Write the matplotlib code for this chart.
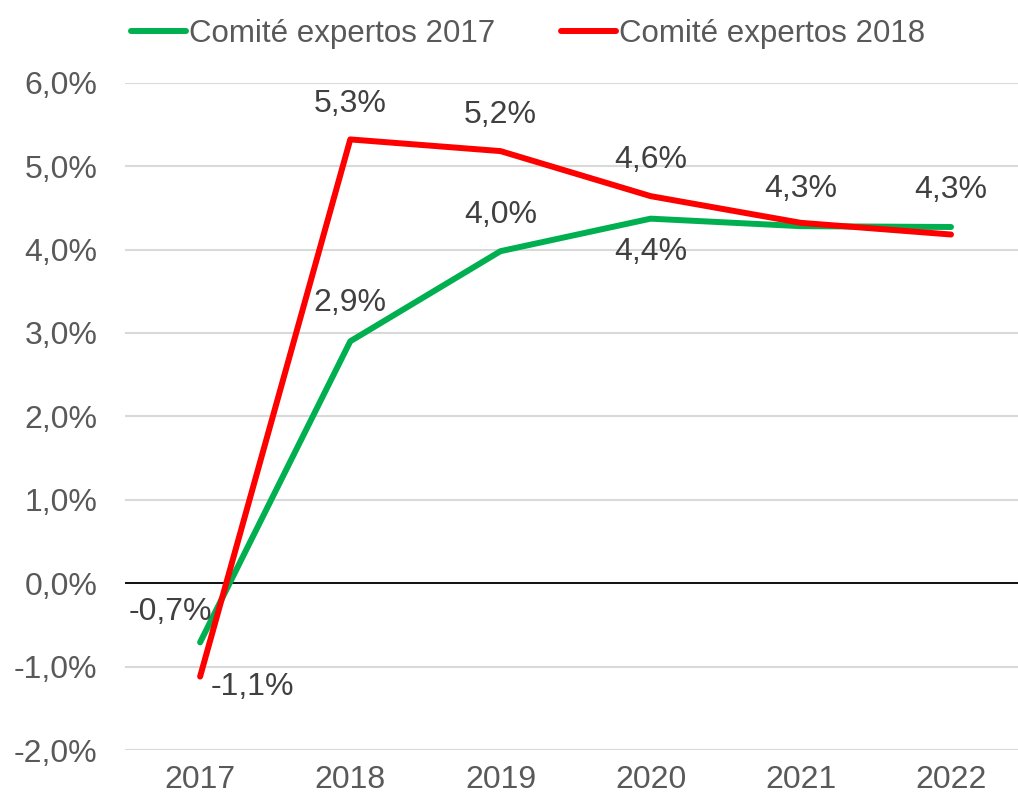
import numpy as np
from matplotlib import pyplot as plt
from matplotlib.ticker import FuncFormatter

plt.rcParams['font.family'] = ['Liberation Sans', 'DejaVu Sans']

years = ["2017", "2018", "2019", "2020", "2021", "2022"]
comite_2017 = [-0.71, 2.90, 3.98, 4.37, 4.28, 4.27]
comite_2018 = [-1.12, 5.32, 5.18, 4.64, 4.32, 4.18]

# which points carry a data label, and where the label sits (pixel offsets)
labels_2017 = {0: (-30, 30), 1: (0, 38), 2: (0, 36), 3: (0, -33), 5: (0, 37)}
labels_2018 = {0: (52, -10), 1: (0, 35), 2: (0, 36), 3: (0, 36), 4: (0, 34)}

def pct(v, pos=None):
    return f"{v:.1f}%".replace(".", ",")

fig = plt.figure(figsize=(10.18, 8.02), dpi=100)
ax = fig.add_axes([125 / 1018, 52 / 802, (1018 - 125) / 1018, (750 - 82.7) / 802])

x = np.arange(len(years))
ax.plot(x, comite_2017, color="#00B050", lw=4.3, solid_capstyle="round",
        label="Comité expertos 2017", zorder=3)
ax.plot(x, comite_2018, color="#FF0000", lw=4.3, solid_capstyle="round",
        label="Comité expertos 2018", zorder=4)

for series, labs in ((comite_2017, labels_2017), (comite_2018, labels_2018)):
    for i, (dx, dy) in labs.items():
        ax.annotate(pct(round(series[i], 1)), (x[i], series[i]),
                    xytext=(dx, dy), textcoords="offset pixels",
                    ha="center", va="center", fontsize=23, color="#404040")

ax.set_xlim(-0.5, (1018 - 200) / 150.2)
ax.set_ylim(-2, 6)
ax.set_yticks(np.arange(-2, 7, 1))
ax.yaxis.set_major_formatter(FuncFormatter(pct))
ax.set_xticks(x)
ax.set_xticklabels(years)
ax.tick_params(length=0, labelsize=23, labelcolor="#595959")
ax.tick_params(axis="y", pad=20)
ax.tick_params(axis="x", pad=11)

ax.grid(axis="y", color="#D9D9D9", lw=1.5)
ax.set_axisbelow(True)
ax.axhline(0, color="black", lw=1.3, zorder=2)
for s in ax.spines.values():
    s.set_visible(False)

fig.legend(loc="upper left", bbox_to_anchor=(103 / 1018, 1.012), ncol=2,
           frameon=False, fontsize=22.5, labelcolor="#595959",
           handlelength=1.75, handletextpad=0.1, columnspacing=2.1)

fig.savefig("out.png", dpi=100)
